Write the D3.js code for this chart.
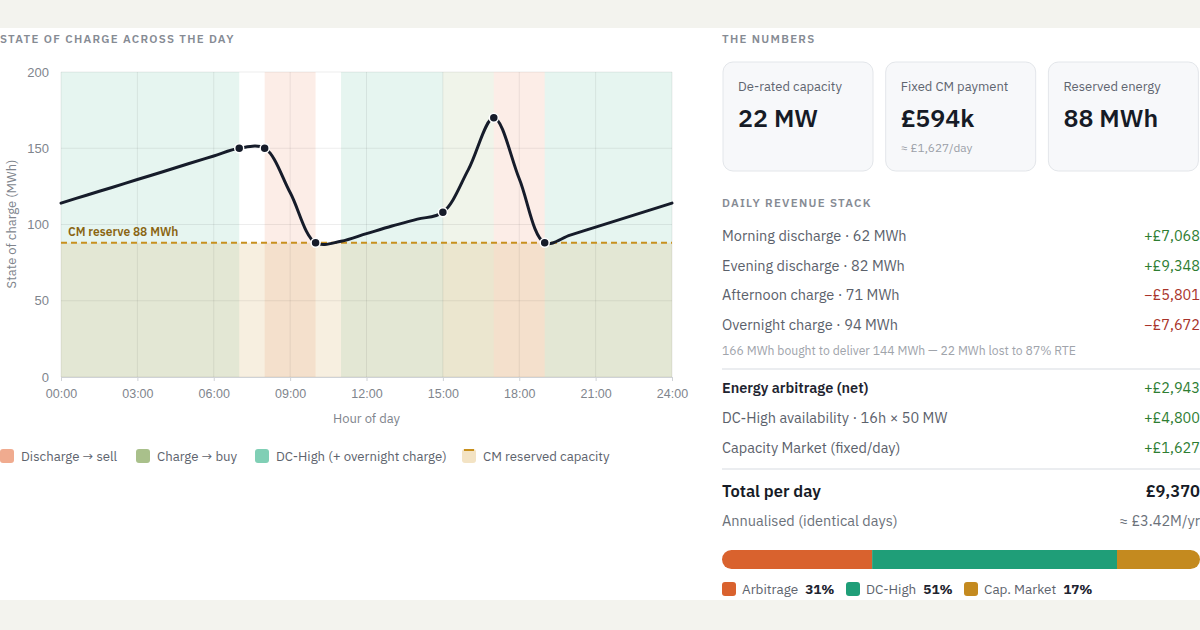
<!DOCTYPE html>
<html>
<head>
<meta charset="utf-8">
<script src="https://cdn.jsdelivr.net/npm/d3@7"></script>
<style>
  body { margin: 0; background: #f3f3ee; }
  svg { display: block; font-family: "IBM Plex Sans", "Noto Sans", sans-serif; }
</style>
</head>
<body>
<svg id="chart" width="1200" height="630"></svg>
<script>
// state of charge, hourly (MWh)
var hours = [0,1,2,3,4,5,6,7,8,9,10,11,12,13,14,15,16,17,18,19,20,21,22,23,24];
var soc   = [114,119.2,124.3,129.5,134.6,139.8,144.9,150,150,121,88,89,94,99,103.5,108,136,170,130,88,93,98.3,103.5,108.8,114];
var markerHours = [7,8,10,15,17,19];

// operating windows
var bandStart = [0,8,11,15,17,19];
var bandEnd   = [7,10,15,17,19,24];
var bandType  = ["dchigh","discharge","dchigh","charge","discharge","dchigh"];
var reserve = 88;

var yTicks = [0,50,100,150,200];
var xTicks = [0,3,6,9,12,15,18,21,24];

var legendLabels = ["Discharge \u2192 sell","Charge \u2192 buy","DC-High (+ overnight charge)","CM reserved capacity"];
var legendKeys = ["discharge","charge","dchigh","cm"];

// right panel
var cardLabels = ["De-rated capacity","Fixed CM payment","Reserved energy"];
var cardValues = ["22 MW","\u00a3594k","88 MWh"];
var cardNotes  = ["","\u2248 \u00a31,627/day",""];

var energyRows  = ["Morning discharge \u00b7 62 MWh","Evening discharge \u00b7 82 MWh","Afternoon charge \u00b7 71 MWh","Overnight charge \u00b7 94 MWh"];
var energyVals  = [7068,9348,-5801,-7672];
var stackRows   = ["Energy arbitrage (net)","DC-High availability \u00b7 16h \u00d7 50 MW","Capacity Market (fixed/day)"];
var stackVals   = [2943,4800,1627];
var shareLabels = ["Arbitrage","DC-High","Cap. Market"];

var bandFill = {discharge:"#ef9c7c", charge:"#a6bf82", dchigh:"#7ccab0"};
var bandOpacity = {discharge:0.18, charge:0.17, dchigh:0.19};
var swatchFill = {discharge:"#f0ab8f", charge:"#a9c08b", dchigh:"#80cfb5", cm:"#f3e3c4"};
var shareColor = ["#d9622e","#1f9e78","#c48a1f"];

var svg = d3.select("#chart");

svg.append("rect").attr("x",0).attr("y",28).attr("width",1200).attr("height",572).attr("fill","#fff");

function label(g, x, y, txt, size, color, weight, anchor){
  return g.append("text").attr("x",x).attr("y",y).text(txt)
    .attr("font-size",size).attr("fill",color)
    .attr("font-weight",weight || 400)
    .attr("text-anchor",anchor || "start");
}

// ---------- chart ----------
var margin = {left:61, top:72};
var width = 611, height = 305;

label(svg, 0, 43, "STATE OF CHARGE ACROSS THE DAY", 11.5, "#868b94", 600).attr("letter-spacing","1.3px");

var g = svg.append("g").attr("transform","translate(" + margin.left + "," + margin.top + ")");

var x = d3.scaleLinear().domain([0,24]).range([0,width]);
var y = d3.scaleLinear().domain([0,200]).range([height,0]);

g.selectAll(".band")
  .data(bandStart)
  .enter().append("rect")
  .attr("class","band")
  .attr("x",function(d){ return x(d); })
  .attr("width",function(d,i){ return x(bandEnd[i]) - x(d); })
  .attr("y",0).attr("height",height)
  .attr("fill",function(d,i){ return bandFill[bandType[i]]; })
  .attr("fill-opacity",function(d,i){ return bandOpacity[bandType[i]]; });

// CM reserved energy floor
g.append("rect")
  .attr("x",0).attr("width",width)
  .attr("y",y(reserve)).attr("height",height - y(reserve))
  .attr("fill","#d7af64").attr("fill-opacity",0.2);

// grid
g.selectAll(".hgrid").data(yTicks).enter().append("line")
  .attr("x1",0).attr("x2",width)
  .attr("y1",function(d){ return y(d); }).attr("y2",function(d){ return y(d); })
  .attr("stroke","#000").attr("stroke-opacity",0.07);
g.selectAll(".vgrid").data(xTicks).enter().append("line")
  .attr("y1",0).attr("y2",height)
  .attr("x1",function(d){ return x(d); }).attr("x2",function(d){ return x(d); })
  .attr("stroke","#000").attr("stroke-opacity",0.07);

var yAxis = d3.axisLeft(y).tickValues(yTicks).tickSize(0).tickPadding(12);
g.append("g").call(yAxis)
  .call(function(a){ a.select(".domain").remove(); })
  .selectAll("text").attr("font-size",13).attr("fill","#80858d").attr("font-family",null);

var xAxis = d3.axisBottom(x).tickValues(xTicks).tickSize(4).tickPadding(8)
  .tickFormat(function(d){ return (d < 10 ? "0" : "") + d + ":00"; });
var xa = g.append("g").attr("transform","translate(0," + height + ")").call(xAxis);
xa.select(".domain").attr("stroke","#cfd2d6");
xa.selectAll(".tick line").attr("stroke","#cfd2d6");
xa.selectAll("text").attr("font-size",12.5).attr("fill","#80858d").attr("font-family",null);

label(g, width/2, height + 46, "Hour of day", 13, "#80858d", 400, "middle");
label(svg, 0, 0, "State of charge (MWh)", 13, "#80858d", 400, "middle")
  .attr("transform","translate(16,224) rotate(-90)");

// reserve line
g.append("line")
  .attr("x1",0).attr("x2",width)
  .attr("y1",y(reserve)).attr("y2",y(reserve))
  .attr("stroke","#c8901e").attr("stroke-width",2).attr("stroke-dasharray","6,4");
label(g, 7, y(reserve) - 7, "CM reserve " + reserve + " MWh", 12, "#8a6512", 600);

var line = d3.line()
  .x(function(d){ return x(d); })
  .y(function(d,i){ return y(soc[i]); })
  .curve(d3.curveCatmullRom.alpha(0.5));

g.append("path")
  .datum(hours)
  .attr("fill","none")
  .attr("stroke","#161c2a")
  .attr("stroke-width",3)
  .attr("stroke-linejoin","round")
  .attr("stroke-linecap","round")
  .attr("d",line);

g.selectAll(".dot").data(markerHours).enter().append("circle")
  .attr("cx",function(d){ return x(d); })
  .attr("cy",function(d){ return y(soc[hours.indexOf(d)]); })
  .attr("r",4.5).attr("fill","#161c2a").attr("stroke","#fff").attr("stroke-width",1.5);

// legend
var legX = [0,136,255,462];
var lg = svg.selectAll(".leg").data(legendKeys).enter().append("g")
  .attr("transform",function(d,i){ return "translate(" + legX[i] + ",449)"; });
lg.append("rect").attr("width",14).attr("height",14).attr("rx",3)
  .attr("fill",function(d){ return swatchFill[d]; });
lg.filter(function(d){ return d == "cm"; }).append("rect")
  .attr("x",2).attr("width",10).attr("height",2).attr("fill","#c8901e");
lg.append("text").attr("x",21).attr("y",12).attr("font-size",13.2).attr("fill","#5d636d")
  .text(function(d,i){ return legendLabels[i]; });

// ---------- right panel ----------
var px = 722, pr = 1200;
label(svg, px, 43, "THE NUMBERS", 11.5, "#868b94", 600).attr("letter-spacing","1.3px");

var card = svg.selectAll(".card").data(cardLabels).enter().append("g")
  .attr("transform",function(d,i){ return "translate(" + (723 + i*162.7) + ",62)"; });
card.append("rect").attr("width",150).attr("height",109).attr("rx",10)
  .attr("fill","#f7f8fa").attr("stroke","#e3e6ea");
card.append("text").attr("x",15).attr("y",29).attr("font-size",13).attr("fill","#5f6570").text(function(d){ return d; });
card.append("text").attr("x",15).attr("y",65).attr("font-size",25).attr("font-weight",600).attr("fill","#161b26")
  .text(function(d,i){ return cardValues[i]; });
card.append("text").attr("x",15).attr("y",90).attr("font-size",11.8).attr("fill","#9ba0a8")
  .text(function(d,i){ return cardNotes[i]; });

label(svg, px, 207, "DAILY REVENUE STACK", 11.5, "#868b94", 600).attr("letter-spacing","1.3px");

var money = d3.format(",");
function signed(v){ return (v < 0 ? "\u2212\u00a3" : "+\u00a3") + money(Math.abs(v)); }

energyRows.forEach(function(r,i){
  var yy = 241 + i*29.7;
  label(svg, px, yy, r, 14.5, "#5b616b");
  label(svg, pr, yy, signed(energyVals[i]), 14.5, energyVals[i] < 0 ? "#a8332a" : "#2e7d32", 400, "end");
});
label(svg, px, 355, "166 MWh bought to deliver 144 MWh \u2014 22 MWh lost to 87% RTE", 12.2, "#a0a4ab");

svg.append("line").attr("x1",px).attr("x2",pr).attr("y1",369).attr("y2",369).attr("stroke","#e5e7eb").attr("stroke-width",1.5);

stackRows.forEach(function(r,i){
  var yy = 393 + i*30;
  label(svg, px, yy, r, 14.5, i == 0 ? "#1e2430" : "#5b616b", i == 0 ? 600 : 400);
  label(svg, pr, yy, signed(stackVals[i]), 14.5, "#2e7d32", 400, "end");
});

svg.append("line").attr("x1",px).attr("x2",pr).attr("y1",469).attr("y2",469).attr("stroke","#e5e7eb").attr("stroke-width",1.5);

var total = d3.sum(stackVals);
label(svg, px, 497, "Total per day", 16.5, "#161b26", 600);
label(svg, pr, 497, "\u00a3" + money(total), 16.5, "#161b26", 600, "end");
label(svg, px, 526, "Annualised (identical days)", 14.5, "#6b717a");
label(svg, pr, 526, "\u2248 \u00a3" + (total*365/1e6).toFixed(2) + "M/yr", 14.5, "#6b717a", 400, "end");

// share bar
var sx = d3.scaleLinear().domain([0,total]).range([px,pr]);
var cum = [0];
stackVals.forEach(function(v,i){ cum.push(cum[i] + v); });
svg.append("clipPath").attr("id","barclip").append("rect")
  .attr("x",px).attr("y",550).attr("width",pr - px).attr("height",19).attr("rx",9.5);
svg.append("g").attr("clip-path","url(#barclip)")
  .selectAll("rect").data(stackVals).enter().append("rect")
  .attr("x",function(d,i){ return sx(cum[i]); })
  .attr("width",function(d){ return sx(d) - px; })
  .attr("y",550).attr("height",19)
  .attr("fill",function(d,i){ return shareColor[i]; });

var shX = [722,846,964];
var sh = svg.selectAll(".share").data(shareLabels).enter().append("g")
  .attr("transform",function(d,i){ return "translate(" + shX[i] + ",582)"; });
sh.append("rect").attr("width",14).attr("height",14).attr("rx",3).attr("fill",function(d,i){ return shareColor[i]; });
sh.append("text").attr("x",20).attr("y",12).attr("font-size",13.5).attr("fill","#5d636d")
  .text(function(d){ return d; })
  .each(function(d,i){
    var w = this.getComputedTextLength();
    d3.select(this.parentNode).append("text")
      .attr("x",20 + w + 7).attr("y",12).attr("font-size",13.5).attr("font-weight",700).attr("fill","#1e2430")
      .text(Math.floor(stackVals[i] / total * 100) + "%");
  });
</script>
</body>
</html>
